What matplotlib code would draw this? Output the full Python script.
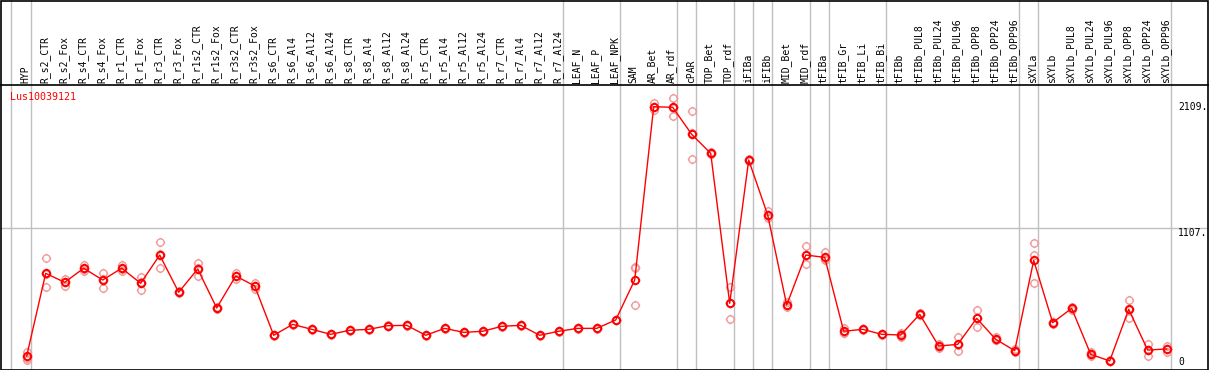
import matplotlib
matplotlib.use("Agg")
import matplotlib.pyplot as plt
from matplotlib.path import Path
from matplotlib.patches import Rectangle
import numpy as np

categories = ["HYP", "R_s2_CTR", "R_s2_Fox", "R_s4_CTR", "R_s4_Fox", "R_r1_CTR", "R_r1_Fox",
              "R_r3_CTR", "R_r3_Fox", "R_r1s2_CTR", "R_r1s2_Fox", "R_r3s2_CTR", "R_r3s2_Fox",
              "R_s6_CTR", "R_s6_Al4", "R_s6_Al12", "R_s6_Al24", "R_s8_CTR", "R_s8_Al4",
              "R_s8_Al12", "R_s8_Al24", "R_r5_CTR", "R_r5_Al4", "R_r5_Al12", "R_r5_Al24",
              "R_r7_CTR", "R_r7_Al4", "R_r7_Al12", "R_r7_Al24", "LEAF_N", "LEAF_P", "LEAF_NPK",
              "SAM", "AR_Bet", "AR_rdf", "cPAR", "TOP_Bet", "TOP_rdf", "iFIBa", "iFIBb",
              "MID_Bet", "MID_rdf", "tFIBa", "tFIB_Gr", "tFIB_Li", "tFIB_Bi", "tFIBb",
              "tFIBb_PUL8", "tFIBb_PUL24", "tFIBb_PUL96", "tFIBb_OPP8", "tFIBb_OPP24",
              "tFIBb_OPP96", "sXYLa", "sXYLb", "sXYLb_PUL8", "sXYLb_PUL24", "sXYLb_PUL96",
              "sXYLb_OPP8", "sXYLb_OPP24", "sXYLb_OPP96"]

mean_values = [52, 734, 660, 776, 679, 776, 652, 885, 578, 770, 448, 712, 630,
               223, 313, 272, 231, 264, 272, 302, 305, 223, 280, 247, 256, 297, 305, 223, 256,
               280, 280, 349, 679, 2109, 2104, 1881, 1724, 487, 1669, 1215, 473, 885, 866,
               256, 272, 231, 225, 396, 134, 148, 363, 190, 96, 841, 327, 445, 66, 11, 437,
               101, 110]

rep1 = [87, 858, 687, 803, 734, 803, 701, 990, 585, 822, 455, 735, 655,
        226, 316, 275, 234, 267, 275, 305, 308, 226, 283, 250, 259, 300, 308, 226, 259,
        283, 283, 352, 789, 2140, 2178, 2076, 1735, 619, 1675, 1248, 495, 960, 910,
        280, 275, 235, 245, 405, 150, 206, 432, 205, 110, 982, 335, 455, 82, 15, 514,
        148, 138]
rep2 = [33, 619, 632, 757, 616, 757, 594, 776, 572, 712, 440, 690, 605,
        220, 310, 269, 228, 261, 269, 299, 302, 220, 277, 244, 253, 294, 302, 220, 253,
        277, 277, 346, 775, 2105, 2035, 1675, 1715, 355, 1660, 1188, 455, 811, 850,
        245, 268, 228, 210, 390, 120, 93, 294, 180, 85, 888, 315, 435, 52, 8, 363,
        52, 82]
rep3 = [19, 725, 660, 770, 687, 770, 660, 890, 578, 776, 448, 712, 630,
        223, 313, 272, 231, 264, 272, 302, 305, 223, 280, 247, 256, 297, 305, 223, 256,
        280, 280, 349, 473, 2082, 2100, 1892, 1722, 487, 1672, 1210, 470, 885, 840,
        243, 272, 231, 220, 393, 132, 145, 363, 185, 93, 652, 330, 445, 64, 10, 435,
        103, 110]

group_ends = [-1, 0, 28, 31, 34, 35, 37, 38, 39, 41, 42, 45, 52, 53, 60]
y_labels = ["2109.", "1107.", "0"]
y_grid_value = 1107
gene_name = "Lus10039121"

W, H = 1209, 370
fig = plt.figure(figsize=(W / 100, H / 100), dpi=100)

# plot area in pixels
left_px, right_px, top_px, bot_px = 1, 1207, 85, 369
ax = fig.add_axes([left_px / W, (H - bot_px) / H, (right_px - left_px) / W, (bot_px - top_px) / H])

px_per_cat = 19.0
x0_px = 26.7
xmin = -(x0_px - left_px) / px_per_cat
xmax = xmin + (right_px - left_px) / px_per_cat
ax.set_xlim(xmin, xmax)

zero_px = 362.3
px_per_unit = (zero_px - 106.7) / 2109.0
ymin = -(bot_px - zero_px) / px_per_unit
ymax = (zero_px - top_px) / px_per_unit
ax.set_ylim(ymin, ymax)

ax.set_xticks([])
ax.set_yticks([])
for s in ax.spines.values():
    s.set_visible(False)

grid_col = "#c0c0c0"
top_ext = 1 + (top_px - 0) / (bot_px - top_px)
for g in group_ends:
    off = 0.16 if g == -1 else 0.21
    ax.plot([g + off, g + off], [0, top_ext], transform=ax.get_xaxis_transform(),
            color=grid_col, lw=1.0, clip_on=False, zorder=1)
ax.axhline(y_grid_value, color=grid_col, lw=1.0, zorder=1)

# custom marker: circle with four short outer ticks
circ = Path.unit_circle()
tick_verts = [(1.0, 0), (1.3, 0), (-1.0, 0), (-1.3, 0), (0, 1.0), (0, 1.3), (0, -1.0), (0, -1.3)]
tick_codes = [Path.MOVETO, Path.LINETO] * 4
ticks = Path(tick_verts, tick_codes)
sight = Path.make_compound_path(circ, ticks)

xs = np.arange(len(categories))
rep_col = "#f09a9a"
msize = 6.8
for reps in (rep1, rep2, rep3):
    ax.plot(xs, reps, linestyle="none", marker=sight, markersize=msize, markerfacecolor="none",
            markeredgecolor=rep_col, markeredgewidth=1.0, zorder=2, clip_on=False)

ax.plot(xs, mean_values, color="#ff0000", lw=1.0, zorder=3)
ax.plot(xs, mean_values, linestyle="none", marker=sight, markersize=msize, markerfacecolor="none",
        markeredgecolor="#ff0000", markeredgewidth=1.4, zorder=4, clip_on=False)

mono = "DejaVu Sans Mono"
for i, c in enumerate(categories):
    ax.text(i - 0.05, 1 + 2 / (bot_px - top_px), c, transform=ax.get_xaxis_transform(),
            rotation=90, ha="center", va="bottom", fontsize=7.0, family=mono, color="black")

fig.text(10 / W, 1 - 97 / H, gene_name, color="#ff0000", fontsize=7.2, family=mono,
         ha="left", va="center")

for lab, ypx in zip(y_labels, [106.7, 232.7, 362.3]):
    fig.text(1178 / W, 1 - ypx / H, lab, color="black", fontsize=7.0, family=mono,
             ha="left", va="center")

fig.add_artist(Rectangle((0.5 / W, 0.5 / H), (W - 2) / W, (H - 1.5) / H, transform=fig.transFigure,
                         fill=False, edgecolor="black", lw=1.2))
fig.add_artist(plt.Line2D([0, 1], [1 - top_px / H, 1 - top_px / H], transform=fig.transFigure,
                          color="black", lw=1.2))

fig.savefig("out.png", dpi=100, facecolor="white")
